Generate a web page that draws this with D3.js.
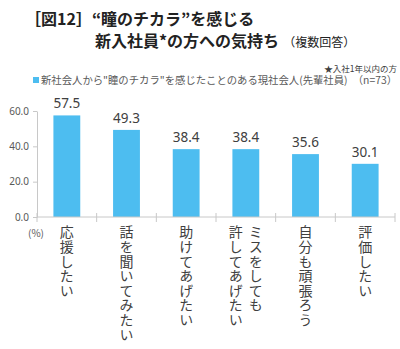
<!DOCTYPE html>
<html>
<head>
<meta charset="utf-8">
<script src="https://cdn.jsdelivr.net/npm/d3@7"></script>
<style>
  body { margin: 0; background: #fff; }
  svg text { font-family: "Noto Sans CJK JP", "Noto Sans", sans-serif; }
</style>
</head>
<body>
<div id="chart"></div>
<script>
// categories (each entry = columns of vertical text, right to left)
var categories = [
  ["応援したい"],
  ["話を聞いてみたい"],
  ["助けてあげたい"],
  ["ミスをしても", "許してあげたい"],
  ["自分も頑張ろう"],
  ["評価したい"]
];
var values = [57.5, 49.3, 38.4, 38.4, 35.6, 30.1];
var yTicks = [0, 20, 40, 60];
var seriesName = "新社会人から\"瞳のチカラ\"を感じたことのある現社会人(先輩社員)\u3000（n=73）";

var W = 400, H = 349;
var margin = {top: 111, left: 37, right: 5, bottom: 132};

var svg = d3.select("#chart").append("svg")
    .attr("width", W)
    .attr("height", H);

// title
svg.append("text")
    .attr("x", 25).attr("y", 25)
    .attr("font-size", 16).attr("font-weight", "bold").attr("fill", "#222")
    .text("［図12］“瞳のチカラ”を感じる");
var t2 = svg.append("text")
    .attr("x", 95).attr("y", 47)
    .attr("font-size", 16).attr("font-weight", "bold").attr("fill", "#222");
t2.append("tspan").text("新入社員*の方への気持ち");
t2.append("tspan").attr("font-size", 12).attr("font-weight", "normal").attr("dx", 4).text("（複数回答）");

svg.append("text")
    .attr("x", 397).attr("y", 71.5)
    .attr("text-anchor", "end")
    .attr("font-size", 8.5).attr("fill", "#404040")
    .text("★入社1年以内の方");

// legend
svg.append("rect")
    .attr("x", 33).attr("y", 77).attr("width", 6).attr("height", 6)
    .attr("fill", "#4dbdf0");
svg.append("text")
    .attr("x", 41).attr("y", 84)
    .attr("font-size", 10.4).attr("fill", "#595959")
    .attr("textLength", 356).attr("lengthAdjust", "spacingAndGlyphs")
    .text(seriesName);

// scales
var x = d3.scaleBand()
    .domain(d3.range(categories.length))
    .range([margin.left, 395])
    .paddingInner(0)
    .paddingOuter(0);

var y = d3.scaleLinear()
    .domain([0, 60])
    .range([217, margin.top]);

var barW = x.bandwidth() * 0.45;

// y axis
var yAxis = svg.append("g")
    .attr("transform", "translate(" + margin.left + ",0)")
    .call(d3.axisLeft(y).tickValues(yTicks).tickFormat(d3.format(".1f")).tickSize(4).tickSizeOuter(0));
yAxis.select(".domain").attr("stroke", "#c8c8c8");
yAxis.selectAll(".tick line").attr("stroke", "#c8c8c8");
yAxis.selectAll(".tick text")
    .attr("font-size", 10).attr("fill", "#595959").attr("x", -8)
    .style("font-family", "'Noto Sans', sans-serif");

// bars
svg.selectAll("rect.bar")
    .data(values)
    .join("rect")
    .attr("class", "bar")
    .attr("x", (d, i) => x(i) + (x.bandwidth() - barW) / 2)
    .attr("y", d => y(d))
    .attr("width", barW)
    .attr("height", d => y(0) - y(d))
    .attr("fill", "#4dbdf0");

// value labels
svg.selectAll("text.val")
    .data(values)
    .join("text")
    .attr("class", "val")
    .attr("x", (d, i) => x(i) + x.bandwidth() / 2)
    .attr("y", d => y(d) - 7)
    .attr("text-anchor", "middle")
    .attr("font-size", 13.5).attr("fill", "#404040")
    .style("font-family", "'Noto Sans', sans-serif")
    .text(d => d.toFixed(1));

// x axis
var xAxisG = svg.append("g");
xAxisG.append("line")
    .attr("x1", x.range()[0]).attr("x2", x.range()[1])
    .attr("y1", y(0)).attr("y2", y(0))
    .attr("stroke", "#c8c8c8");
xAxisG.selectAll("line.tk")
    .data(d3.range(categories.length + 1))
    .join("line")
    .attr("class", "tk")
    .attr("x1", i => x.range()[0] + i * x.step())
    .attr("x2", i => x.range()[0] + i * x.step())
    .attr("y1", y(0) - 4).attr("y2", y(0) + 5)
    .attr("stroke", "#c8c8c8");

// vertical category labels
categories.forEach(function(cols, i) {
  var cx = x(i) + x.bandwidth() / 2;
  cols.forEach(function(txt, j) {
    var off = (cols.length - 1) * 10 - j * 20;
    svg.append("text")
      .attr("x", cx + off)
      .attr("y", 225)
      .style("writing-mode", "vertical-rl")
      .attr("font-size", 14).attr("fill", "#404040")
      .attr("letter-spacing", 0.6)
      .text(txt);
  });
});

svg.append("text")
    .attr("x", 28).attr("y", 237)
    .attr("font-size", 10).attr("fill", "#595959")
    .text("(%)");
</script>
</body>
</html>
